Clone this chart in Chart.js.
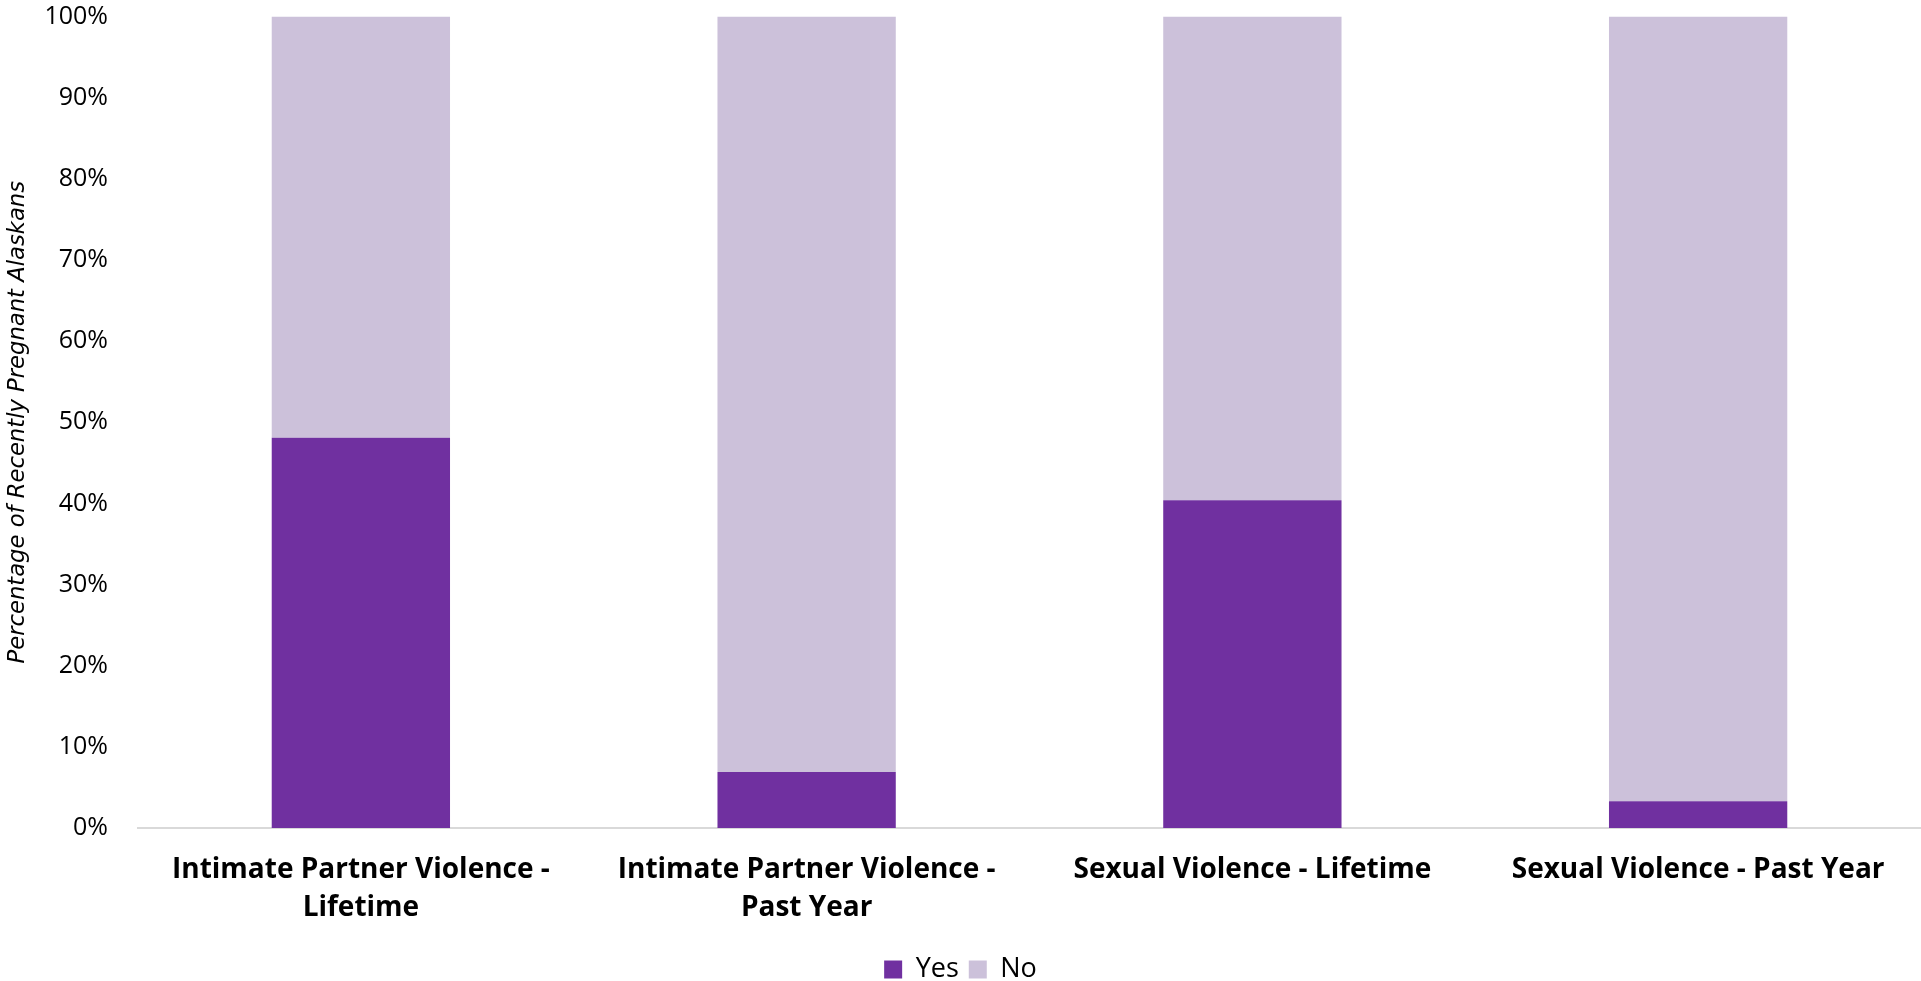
<!DOCTYPE html>
<html>
<head>
<meta charset="utf-8">
<script src="https://cdn.jsdelivr.net/npm/chart.js@4"></script>
<style>
  html, body { margin: 0; padding: 0; background: #ffffff; }
  #wrap { width: 1921px; height: 981px; position: relative; }
</style>
</head>
<body>
<div id="wrap"><canvas id="chart"></canvas></div>
<script>
// Categories (multi-line labels as arrays)
const categories = [
  ["Intimate Partner Violence -", "Lifetime"],
  ["Intimate Partner Violence -", "Past Year"],
  "Sexual Violence - Lifetime",
  "Sexual Violence - Past Year"
];

// Share of respondents, in percent
const yesValues = [48.1, 6.9, 40.4, 3.3];
const noValues  = [51.9, 93.1, 59.6, 96.7];

const seriesNames = ["Yes", "No"];
const yAxisTitle = "Percentage of Recently Pregnant Alaskans";

const FONT = "'Open Sans', sans-serif";
const TITLE_FONT = "'DejaVu Sans', sans-serif";

new Chart(document.getElementById("chart"), {
  type: "bar",
  data: {
    labels: categories,
    datasets: [
      { label: seriesNames[0], data: yesValues, backgroundColor: "#7030A0", borderWidth: 0 },
      { label: seriesNames[1], data: noValues,  backgroundColor: "#CCC1DA", borderWidth: 0 }
    ]
  },
  options: {
    responsive: true,
    maintainAspectRatio: false,
    animation: false,
    layout: { padding: { top: 0, right: 0, left: 0, bottom: -12 } },
    datasets: { bar: { barPercentage: 0.4, categoryPercentage: 1.0 } },
    plugins: {
      legend: {
        position: "bottom",
        labels: {
          font: { family: FONT, size: 27 },
          color: "#000000",
          boxWidth: 18,
          boxHeight: 18,
          padding: 10
        }
      },
      tooltip: { enabled: false }
    },
    scales: {
      x: {
        stacked: true,
        grid: { display: false, drawTicks: false },
        border: { display: true, color: "#d9d9d9", width: 2 },
        ticks: {
          font: { family: FONT, size: 28, weight: "bold", lineHeight: 1.357 },
          color: "#000000",
          padding: 23,
          maxRotation: 0,
          autoSkip: false
        },
        afterFit: (scale) => { scale.height = 118; }
      },
      y: {
        stacked: true,
        min: 0,
        max: 100,
        // tick marks are hidden; their length only spaces the labels from the bars
        grid: { display: false, drawTicks: true, tickLength: 30 },
        border: { display: false },
        ticks: {
          stepSize: 10,
          font: { family: FONT, size: 25, lineHeight: 1.32 },
          color: "#000000",
          padding: 0,
          callback: (v) => v + "%"
        },
        title: {
          display: true,
          text: yAxisTitle,
          font: { family: TITLE_FONT, size: 22.7, style: "italic" },
          color: "#000000",
          padding: { top: 4, bottom: 0 }
        },
        afterFit: (scale) => { scale.width = 138; }
      }
    }
  }
});
</script>
</body>
</html>
